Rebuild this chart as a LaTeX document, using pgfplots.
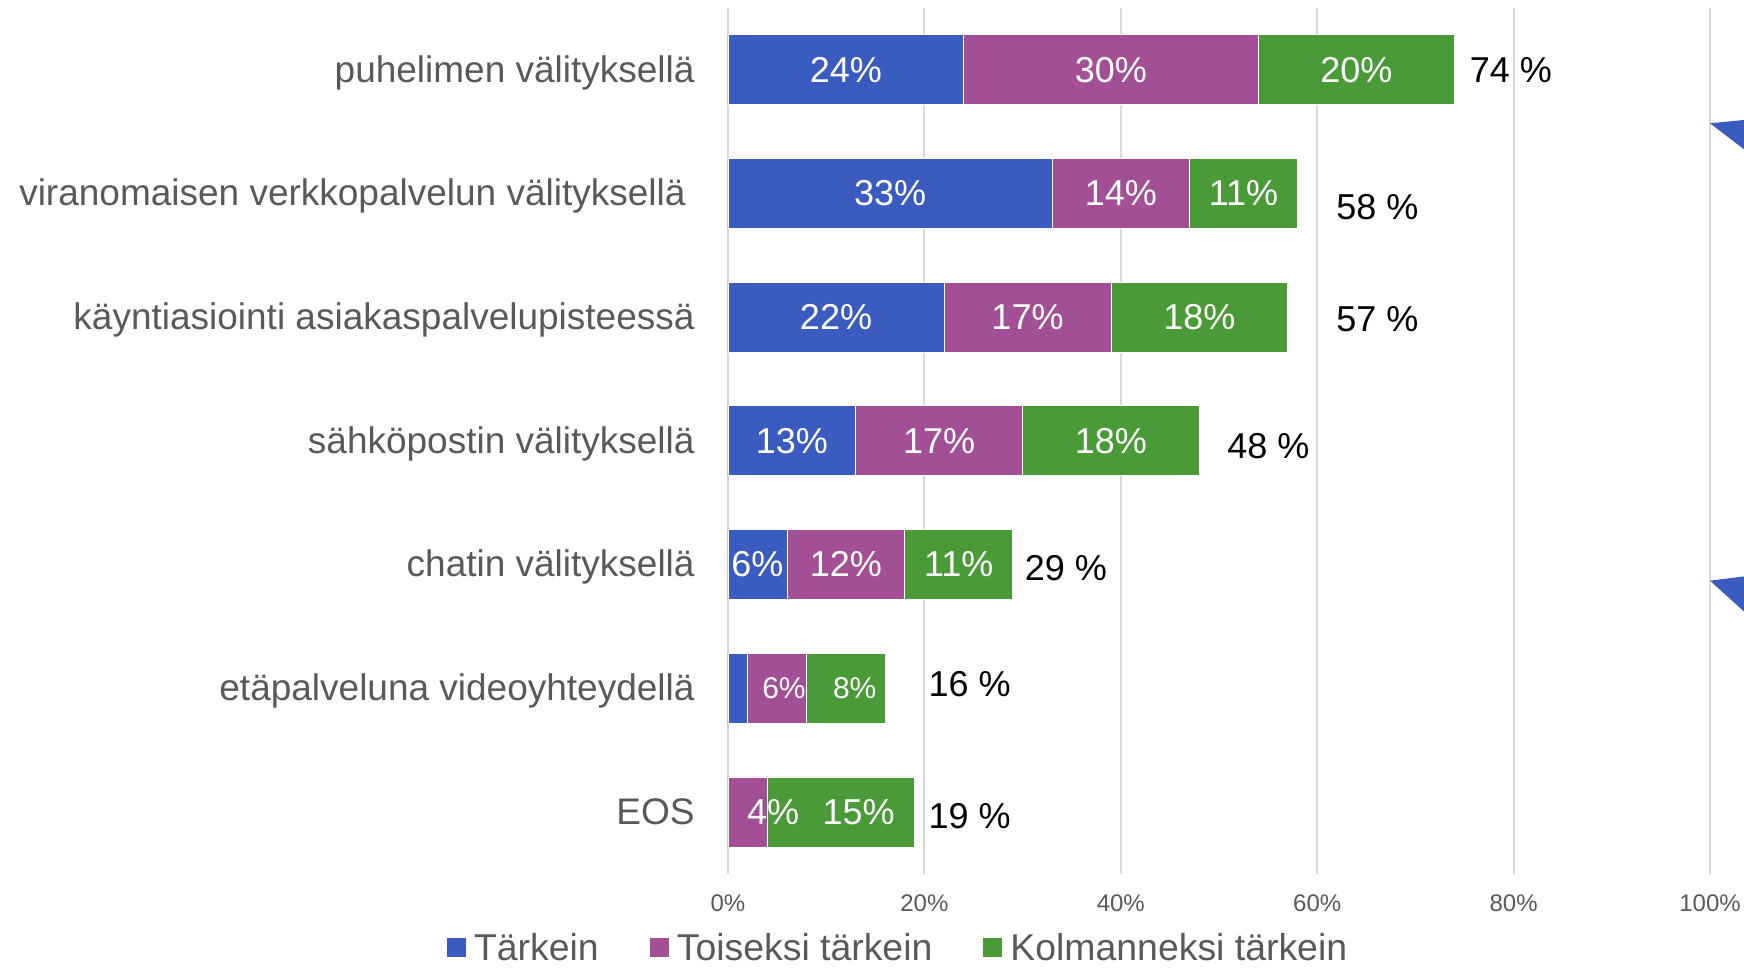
\documentclass[border=0pt]{standalone}
\usepackage{pgfplots}
\pgfplotsset{compat=1.18}
\usepackage{fontspec}
\setmainfont{Liberation Sans}
\definecolor{cBlue}{HTML}{3A5BBF}
\definecolor{cPurple}{HTML}{A24F96}
\definecolor{cGreen}{HTML}{4A9B37}
\definecolor{cText}{HTML}{595959}
\definecolor{cGrid}{HTML}{D9D9D9}
\begin{document}
\begin{tikzpicture}
\path[use as bounding box] (-364pt,-47.1pt) rectangle (508pt,436.9pt);
\pgfplotsset{
  base/.style={
    at={(0pt,0pt)}, anchor=south west,
    scale only axis, width=491pt, height=433pt,
    xmin=0, xmax=100, ymin=-0.5, ymax=6.5, y dir=reverse,
  }
}
\begin{axis}[base,
  xbar stacked, bar width=35pt,
  xtick={0,20,40,60,80,100},
  xticklabels={0\%,20\%,40\%,60\%,80\%,100\%},
  xticklabel style={font=\fontsize{12}{14}\selectfont, text=cText, anchor=center, yshift=-14.6pt},
  ytick={0,1,2,3,4,5,6},
  yticklabels={puhelimen välityksellä, viranomaisen verkkopalvelun välityksellä\rule{4.5pt}{0pt}, käyntiasiointi asiakaspalvelupisteessä, sähköpostin välityksellä, chatin välityksellä, etäpalveluna videoyhteydellä, EOS},
  yticklabel style={font=\fontsize{18.5}{20}\selectfont, text=cText, anchor=east, inner sep=0pt, text height=0.73em, text depth=0.21em, xshift=-16.5pt, yshift=-3.6pt},
  xmajorgrids, ymajorgrids=false,
  grid style={cGrid, line width=1pt},
  axis line style={draw=none},
  major tick length=0pt, tick style={draw=none},
  /pgf/number format/assume math mode=true,
  legend columns=-1,
  legend style={at={(0.1743,-0.0859)}, anchor=center, draw=none, fill=none,
    font=\fontsize{18.7}{20}\selectfont, text=cText,
    nodes={inner ysep=0pt},
    /tikz/every even column/.append style={column sep=23.5pt}},
  legend image code/.code={\fill[#1, draw=none] (0pt,-4.5pt) rectangle (9.5pt,5pt); \path[draw=none, fill=none] (0pt,0pt) -- (11.5pt,0pt);},
]
\addplot[fill=cBlue, draw=white, line width=0.4pt] coordinates {(24,0) (33,1) (22,2) (13,3) (6,4) (2,5) (0,6)};
\addplot[fill=cPurple, draw=white, line width=0.4pt] coordinates {(30,0) (14,1) (17,2) (17,3) (12,4) (6,5) (4,6)};
\addplot[fill=cGreen, draw=white, line width=0.4pt] coordinates {(20,0) (11,1) (18,2) (18,3) (11,4) (8,5) (15,6)};
\legend{Tärkein, Toiseksi tärkein, Kolmanneksi tärkein}
\end{axis}
\begin{axis}[base, hide axis,
  nodes near coords, point meta=explicit symbolic,
  every node near coord/.append style={anchor=center, text=white, font=\fontsize{18}{20}\selectfont, inner sep=0pt},
]
\addplot[draw=none] coordinates {
  (12,0)[24\%] (39,0)[30\%] (64,0)[20\%]
  (16.5,1)[33\%] (40,1)[14\%] (52.5,1)[11\%]
  (11,2)[22\%] (30.5,2)[17\%] (48,2)[18\%]
  (6.5,3)[13\%] (21.5,3)[17\%] (39,3)[18\%]
  (3,4)[6\%] (12,4)[12\%] (23.5,4)[11\%]
  (4.6,6)[4\%] (13.3,6)[15\%]
};
\addplot[draw=none, every node near coord/.append style={font=\fontsize{15}{17}\selectfont}] coordinates {
  (5.7,5)[6\%] (12.9,5)[8\%]
};
\addplot[draw=none, every node near coord/.append style={anchor=west, text=black}] coordinates {
  (75.5,0)[74 \%] (61.9,1.11)[58 \%] (61.9,2.02)[57 \%] (50.8,3.04)[48 \%]
  (30.2,4.03)[29 \%] (20.4,4.97)[16 \%] (20.4,6.03)[19 \%]
};
\end{axis}
\fill[cBlue] (491pt,375.25pt) -- (512pt,377.3pt) -- (512pt,359.2pt) -- cycle;
\fill[cBlue] (491pt,146.55pt) -- (512pt,149.2pt) -- (512pt,127.5pt) -- cycle;
\end{tikzpicture}
\end{document}
